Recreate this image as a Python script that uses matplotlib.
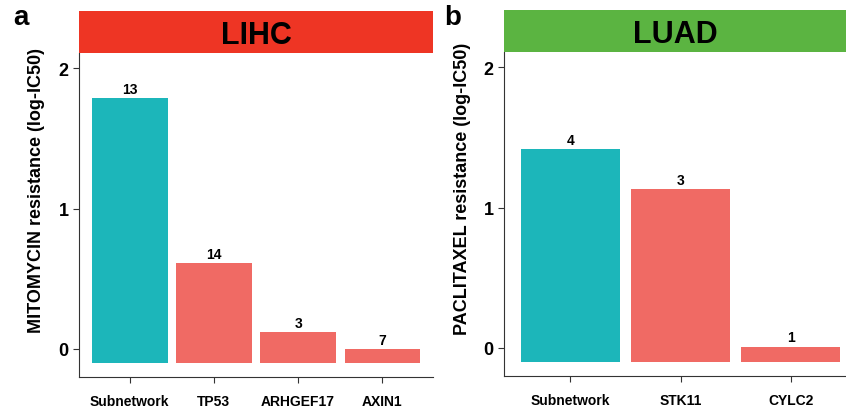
import matplotlib.pyplot as plt

plt.rcParams['font.family'] = ['Liberation Sans', 'DejaVu Sans']
plt.rcParams['font.weight'] = 'bold'

# LIHC panel
lihc_genes = ['Subnetwork', 'TP53', 'ARHGEF17', 'AXIN1']
lihc_values = [1.79, 0.61, 0.12, 0.0]
lihc_counts = [13, 14, 3, 7]

# LUAD panel
luad_genes = ['Subnetwork', 'STK11', 'CYLC2']
luad_values = [1.42, 1.13, 0.01]
luad_counts = [4, 3, 1]

BASE = -0.1
TEAL = '#1CB6BA'
SALMON = '#F06A64'


def panel(ax, genes, values, counts, title, strip_color, ylabel, letter, letter_x, xmax):
    colors = [TEAL] + [SALMON] * (len(genes) - 1)
    x = list(range(len(genes)))
    heights = [v - BASE for v in values]
    ax.bar(x, heights, bottom=BASE, width=0.9, color=colors)
    for xi, v, c in zip(x, values, counts):
        ax.text(xi, v + 0.015, str(c), ha='center', va='bottom', fontsize=10, fontweight='bold')
    ax.set_xlim(-0.6, xmax)
    ax.set_ylim(-0.2, 2.11)
    ax.set_yticks([0, 1, 2])
    ax.set_xticks(x)
    ax.set_xticklabels(genes, fontsize=10, fontweight='bold')
    ax.tick_params(axis='y', labelsize=13, length=4, color='#333333')
    ax.tick_params(axis='x', length=4, color='#333333', pad=8)
    for lbl in ax.get_yticklabels():
        lbl.set_fontweight('bold')
    ax.spines['top'].set_visible(False)
    ax.spines['right'].set_visible(False)
    ax.spines['left'].set_color('#333333')
    ax.spines['bottom'].set_color('#333333')
    ax.set_ylabel(ylabel, fontsize=13, fontweight='bold')
    ax.yaxis.set_label_coords(-0.097, 0.58)

    # strip on top
    pos = ax.get_position()
    sax = fig.add_axes([pos.x0, pos.y1, pos.width, 42 / 410])
    sax.set_facecolor(strip_color)
    sax.set_xticks([])
    sax.set_yticks([])
    for s in sax.spines.values():
        s.set_visible(False)
    sax.text(0.5, 0.42, title, ha='center', va='center', fontsize=22, fontweight='bold',
             transform=sax.transAxes)
    fig.text(letter_x, 0.955, letter, fontsize=20, fontweight='bold', ha='left', va='center')


fig = plt.figure(figsize=(8.46, 4.10), dpi=100)
ax1 = fig.add_axes([79 / 846, 1 - 378 / 410, (433 - 79) / 846, (378 - 54) / 410])
ax2 = fig.add_axes([504 / 846, 1 - 377 / 410, (846 - 504) / 846, (377 - 53) / 410])

panel(ax1, lihc_genes, lihc_values, lihc_counts, 'LIHC', '#EE3524',
      'MITOMYCIN resistance (log-IC50)', 'a', 13 / 846, 3.6)
panel(ax2, luad_genes, luad_values, luad_counts, 'LUAD', '#5BB441',
      'PACLITAXEL resistance (log-IC50)', 'b', 444 / 846, 2.5)

fig.savefig('out.png', dpi=100)
